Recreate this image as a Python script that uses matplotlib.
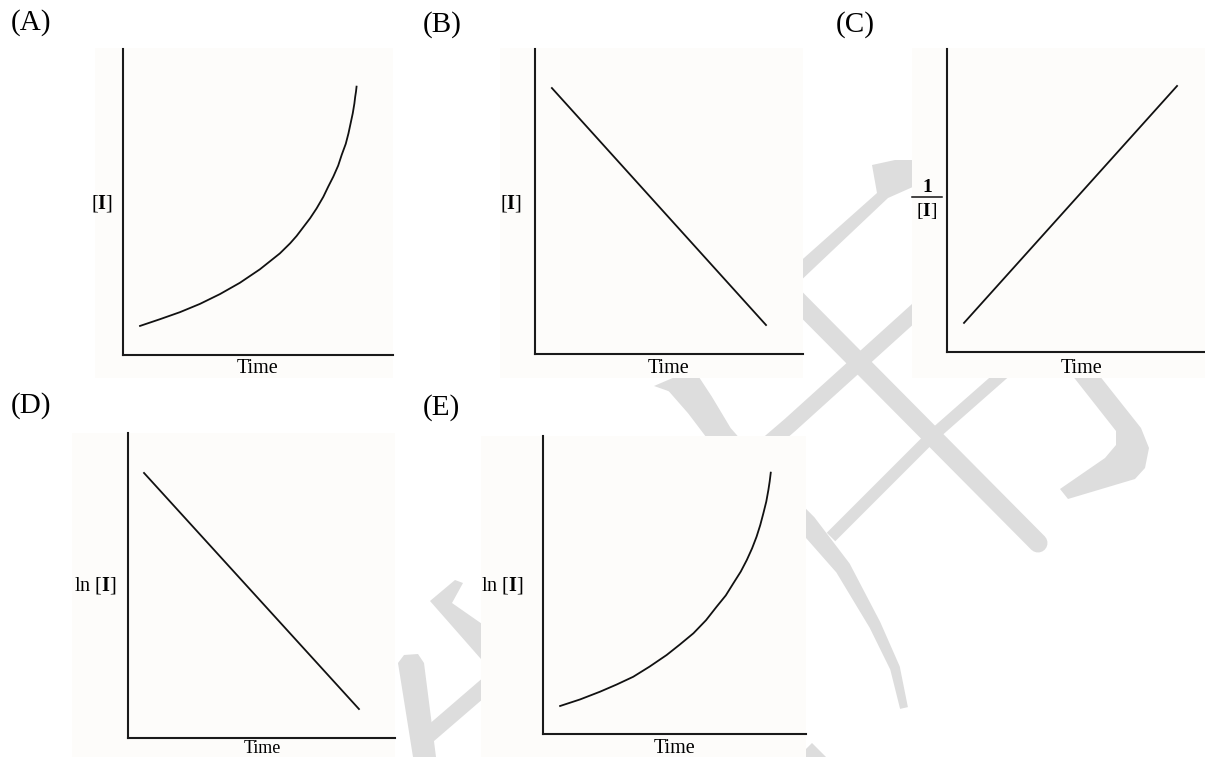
import numpy as np
import matplotlib
matplotlib.use("Agg")
import matplotlib.pyplot as plt
from matplotlib.patches import Polygon, Rectangle

plt.rcParams['font.family'] = ['Liberation Serif', 'DejaVu Serif']

W, H = 1205, 757

# curves, in % of each axis (time, y)
time_a = [6.3, 13.7, 21.1, 28.5, 35.9, 43.3, 50.7, 58.1, 61.9, 64.3, 69.3, 71.7, 74.2, 76.0, 77.9,
          79.7, 81.0, 82.5, 83.5, 84.3, 85.1, 85.7, 86.0, 86.3, 86.5]
conc_a = [9.5, 11.7, 14.0, 16.7, 19.9, 23.6, 28.0, 33.2, 36.5, 38.9, 44.7, 47.9, 51.7, 55.0, 58.3,
          61.9, 65.4, 69.0, 72.4, 75.7, 79.0, 82.2, 84.4, 86.1, 87.7]

time_b = [6.3, 86.2]
conc_b = [87.2, 9.5]

time_c = [6.3, 85.2]
inv_c = [9.6, 87.8]

time_d = [6.0, 86.5]
ln_d = [86.9, 9.5]

time_e = [6.5, 14.1, 21.7, 28.0, 34.3, 40.5, 47.0, 52.0, 57.2, 62.0, 66.0, 69.5, 72.4, 75.2, 77.5,
          79.5, 81.2, 82.6, 83.8, 84.9, 85.7, 86.2, 86.6]
ln_e = [9.4, 11.6, 14.2, 16.6, 19.2, 22.6, 26.5, 30.0, 33.8, 38.2, 42.7, 46.5, 50.6, 54.5, 58.4,
        62.3, 66.2, 70.1, 74.1, 78.0, 81.9, 84.8, 87.7]

panel_tags = ["(A)", "(B)", "(C)", "(D)", "(E)"]

fig = plt.figure(figsize=(W / 100, H / 100), dpi=100)
fig.patch.set_facecolor('white')

# page layer: watermark + panel backgrounds, in pixel units
bg = fig.add_axes([0, 0, 1, 1])
bg.set_xlim(0, W)
bg.set_ylim(H, 0)
bg.axis('off')

WM = '#dddddd'


def band(pts, widths):
    p = np.array(pts, float)
    w = np.array(widths, float) / 2
    d = np.gradient(p, axis=0)
    d /= np.linalg.norm(d, axis=1)[:, None]
    n = np.column_stack([-d[:, 1], d[:, 0]])
    return np.vstack([p + n * w[:, None], (p - n * w[:, None])[::-1]])


wm_shapes = [
    # arrow
    [(795, 266), (877, 193), (872, 165), (895, 160), (915, 160), (915, 186), (888, 198), (795, 286)],
    # hook at right
    [(1068, 370), (1095, 370), (1141, 428), (1149, 448), (1145, 468), (1135, 479), (1068, 499),
     (1060, 489), (1105, 458), (1116, 445), (1116, 431)],
    # "<" piece left of E
    [(430, 601), (455, 580), (463, 583), (452, 603), (495, 633), (495, 675)],
    # short stroke at bottom left
    [(398, 663), (404, 655), (418, 654), (424, 663), (436, 757), (413, 757)],
    # tiny bit at bottom
    [(806, 749), (812, 743), (826, 757), (806, 757)],
    # tip of curved tail
    [(654, 386), (682, 374), (688, 398)],
]
for s in wm_shapes:
    bg.add_patch(Polygon(s, closed=True, fc=WM, ec='none', zorder=1))

bg.add_patch(Polygon(band([(678, 376), (700, 405), (721, 436), (760, 478), (807, 524),
                           (843, 568), (875, 625), (895, 668), (904, 708)],
                          [34, 29, 25, 22, 20, 16, 12, 10, 8]),
                     closed=True, fc=WM, ec='none', zorder=1))

bg.plot([423, 481, 790, 925], [740, 690, 425, 303], color=WM, lw=16 * 0.72,
        solid_capstyle='butt', zorder=1)
bg.plot([795, 1038], [298, 543], color=WM, lw=19 * 0.72, solid_capstyle='round', zorder=1)
bg.plot([831, 930, 1005], [537, 438, 372], color=WM, lw=12 * 0.72, solid_capstyle='butt', zorder=1)

# panel backgrounds (x0, y0, x1, y1)
panel_bg = [(95, 48, 393, 378), (500, 48, 803, 378), (912, 48, 1205, 378),
            (72, 433, 395, 757), (481, 436, 806, 757)]
for x0, y0, x1, y1 in panel_bg:
    bg.add_patch(Rectangle((x0, y0), x1 - x0, y1 - y0, fc='#fdfcfa', ec='none', zorder=3))

# axes frames: y-axis x, top, bottom, right end
frames = [(123, 49, 355, 393), (535, 49, 354, 803), (947, 49, 352, 1217),
          (128, 433, 738, 395), (543, 436, 734, 806)]
series = [(time_a, conc_a), (time_b, conc_b), (time_c, inv_c), (time_d, ln_d), (time_e, ln_e)]

for (x0, top, bot, x1), (xs, ys) in zip(frames, series):
    ax = fig.add_axes([x0 / W, 1 - bot / H, (x1 - x0) / W, (bot - top) / H])
    ax.set_facecolor('none')
    ax.set_xlim(0, 100)
    ax.set_ylim(0, 100)
    for side in ['top', 'right']:
        ax.spines[side].set_visible(False)
    for side in ['left', 'bottom']:
        ax.spines[side].set_linewidth(1.5)
        ax.spines[side].set_color('#1a1a1a')
    ax.set_xticks([])
    ax.set_yticks([])
    ax.plot(xs, ys, color='#111111', lw=1.3, solid_joinstyle='round')


def put(x, y, s, **kw):
    fig.text(x / W, 1 - y / H, s, **kw)


tag_pos = [(11, 23), (423, 25), (836, 25), (11, 406), (423, 408)]
for (x, y), t in zip(tag_pos, panel_tags):
    put(x, y, t, fontsize=21, ha='left', va='center')

for x, y in [(258, 373), (669, 373), (1082, 373), (675, 753)]:
    put(x, y, "Time", fontsize=14.5, ha='center', va='baseline')
# the bottom-left one sits on the page edge, a bit smaller so it fits
put(262, 757, "Time", fontsize=13, ha='center', va='bottom')

plt.rcParams['mathtext.fontset'] = 'custom'
plt.rcParams['mathtext.rm'] = 'Liberation Serif'
plt.rcParams['mathtext.bf'] = 'Liberation Serif:bold'

put(102, 203.5, r'$[\mathbf{I}]$', fontsize=14.5, ha='center', va='center')
put(511, 203, r'$[\mathbf{I}]$', fontsize=14.5, ha='center', va='center')
put(95, 586, r'ln $[\mathbf{I}]$', fontsize=14.5, ha='center', va='center')
put(502, 586, r'ln $[\mathbf{I}]$', fontsize=14.5, ha='center', va='center')

put(927, 188, "1", fontsize=14, fontweight='bold', ha='center', va='center')
put(927, 211, r'$[\mathbf{I}]$', fontsize=14, ha='center', va='center')
bg.plot([912, 942], [197, 197], color='#111111', lw=1.1, zorder=5)

fig.savefig('out.png', dpi=100)
